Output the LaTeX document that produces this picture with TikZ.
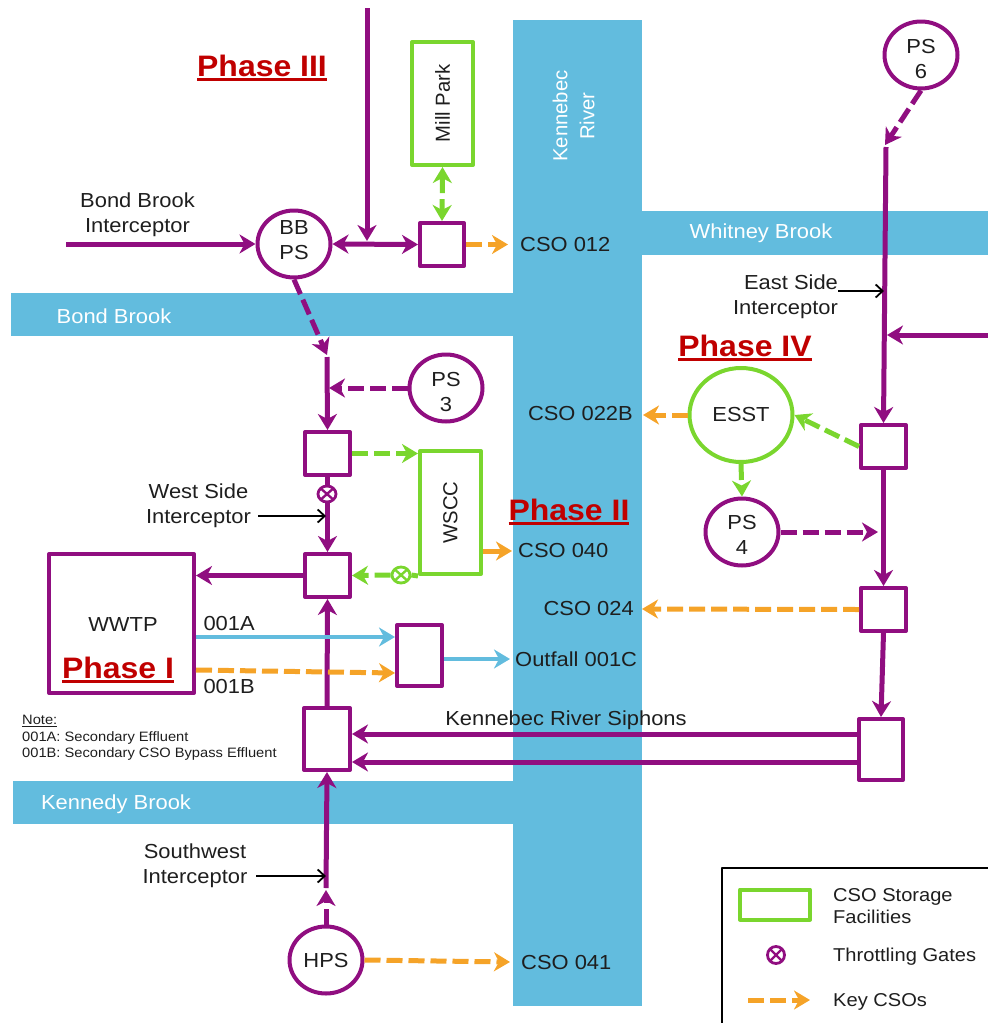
\documentclass[tikz,border=0pt]{standalone}
\usepackage{fontspec}
\setmainfont[FakeStretch=1.08]{Liberation Sans}
\newfontfamily\rotfont{Liberation Sans}
\usepackage{tikz}
\usetikzlibrary{arrows.meta, calc, shapes.geometric}

\definecolor{riverblue}{RGB}{98,188,222}
\definecolor{pipepurple}{RGB}{144,14,128}
\definecolor{storegreen}{RGB}{122,214,46}
\definecolor{csoorange}{RGB}{245,163,40}
\definecolor{phasered}{RGB}{192,0,0}
\definecolor{labelgray}{RGB}{30,30,30}

\newcommand{\phaseline}[1]{\setbox0\hbox{#1}\rlap{\rule[-4.5pt]{\wd0}{3pt}}\box0}

\tikzset{
  waterlabel/.style={text=white, font=\fontsize{20.3}{27}\selectfont},
  txt/.style={text=labelgray, font=\fontsize{20.3}{25}\selectfont, align=center},
  legtxt/.style={text=labelgray, font=\fontsize{18.6}{22}\selectfont, anchor=west, inner sep=0pt, align=left},
  pbox/.style={draw=pipepurple, line width=4pt, fill=white, line join=round, inner sep=0pt, minimum width=#1},
  pcirc/.style={draw=pipepurple, line width=4pt, fill=white, ellipse, inner sep=0pt, minimum width=73pt, minimum height=67pt, txt},
  gbox/.style={draw=storegreen, line width=4pt, fill=white, inner sep=0pt, line join=round, txt},
  phasetxt/.style={text=phasered, font=\fontsize{29.6}{36}\selectfont\bfseries},
  endtip/.style={-{Stealth[length=16pt,width=19pt,inset=5pt]}},
  bothtip/.style={{Stealth[length=16pt,width=19pt,inset=5pt]}-{Stealth[length=16pt,width=19pt,inset=5pt]}},
  pipe/.style={draw=pipepurple, line width=5pt, endtip},
  pipedash/.style={pipe, dash pattern=on 16pt off 6pt},
  gline/.style={draw=storegreen, line width=5pt, endtip, dash pattern=on 16pt off 6pt},
  oline/.style={draw=csoorange, line width=5pt, endtip, dash pattern=on 16pt off 6pt},
  bline/.style={draw=riverblue, line width=4pt, endtip},
  kline/.style={draw=black, line width=1.8pt, -{Straight Barb[length=7pt,width=13pt]}},
  gatep/.style={draw=pipepurple, line width=2.8pt, fill=white, ellipse, minimum width=18pt, minimum height=16pt, inner sep=0pt, path picture={
    \draw[pipepurple, line width=2.4pt] (path picture bounding box.north west) -- (path picture bounding box.south east)
      (path picture bounding box.north east) -- (path picture bounding box.south west);}},
  gateg/.style={gatep, draw=storegreen, path picture={
    \draw[storegreen, line width=2.4pt] (path picture bounding box.north west) -- (path picture bounding box.south east)
      (path picture bounding box.north east) -- (path picture bounding box.south west);}},
}

\begin{document}
\begin{tikzpicture}[x=1pt, y=-1pt, line join=round]
\useasboundingbox (0,0) rectangle (988,1023);

% water
\fill[riverblue] (513,20) rectangle (642,1006);
\fill[riverblue] (642,211) rectangle (988,255);
\fill[riverblue] (11,293) rectangle (513,336);
\fill[riverblue] (13,781) rectangle (513,824);
\node[waterlabel, rotate=90] (kennebec) at (575.5,116) {\rotfont\begin{tabular}{c}Kennebec\\River\end{tabular}};
\node[waterlabel] (whitney) at (761,233) {Whitney Brook};
\node[waterlabel] (bondbrook) at (114,316) {Bond Brook};
\node[waterlabel] (kennedy) at (116,804) {Kennedy Brook};

% facilities
\node[pcirc, label={[txt, yshift=4pt]center:BB\\PS}] (bbps) at (294,244) {};
\node[pcirc, label={[txt, yshift=-4pt]center:PS\\3}] (ps3) at (446,388) {};
\node[pcirc, label={[txt, yshift=-3pt]center:PS\\4}] (ps4) at (742,532) {};
\node[pcirc, label={[txt, yshift=-4pt]center:PS\\6}] (ps6) at (921,55) {};
\node[pcirc] (hps) at (326,960) {HPS};
\node[pcirc, draw=storegreen, minimum width=103pt, minimum height=94pt] (esst) at (741,415) {ESST};

\node[gbox, minimum width=61pt, minimum height=123pt] (millpark) at (442.5,103.5) {\rotatebox{90}{\rotfont Mill Park}};
\node[gbox, minimum width=61pt, minimum height=123pt] (wscc) at (450.5,512.5) {\rotatebox{90}{\rotfont WSCC}};

\node[pbox=44pt, minimum height=43pt] (boxa) at (442,244.5) {};
\node[pbox=45pt, minimum height=43pt] (boxb) at (327.5,453.5) {};
\node[pbox=45pt, minimum height=43pt] (boxc) at (327.5,575.5) {};
\node[pbox=45pt, minimum height=61pt] (boxd) at (419.5,655.5) {};
\node[pbox=46pt, minimum height=62pt] (boxe) at (327,739) {};
\node[pbox=44pt, minimum height=61pt] (boxf) at (881,749.5) {};
\node[pbox=45pt, minimum height=43pt] (boxg) at (883.5,446.5) {};
\node[pbox=45pt, minimum height=43pt] (boxh) at (883.5,609.5) {};
\node[pbox=145pt, minimum height=139pt] (wwtp) at (121.5,623.5) {};

% free ends
\coordinate (bbin) at (66,244);
\coordinate (topin) at (367,8);
\coordinate (topjoin) at (367,241);
\coordinate (westk) at (327,357);
\coordinate (westj) at (327,355);
\coordinate (ps3j) at (329,388);
\coordinate (eastin) at (988,335);
\coordinate (eastj) at (887,335);
\coordinate (ps6k) at (885,145);
\coordinate (ps6j) at (886,147);
\coordinate (ps4j) at (878,532);
\coordinate (hpsk) at (326,890);
\coordinate (hpsj) at (326,888);

% purple pipes
\draw[pipe] (bbin) -- (bbps.west);
\draw[pipe] (topin) -- (topjoin);
\draw[pipe, bothtip] (bbps.east) -- (boxa.west);
\draw[pipedash] (bbps.south) -- (westj);
\draw[pipe] (westk) -- (boxb.north);
\draw[pipedash] (ps3.west) -- (ps3j);
\draw[pipe] (boxc.west) -- (wwtp.east |- boxc.west);
\draw[pipe] (boxe.north) -- (boxc.south);
\draw[pipedash] (hps.north) -- (hpsk);
\draw[pipe] (hpsj) -- (boxe.south);
\draw[pipe] ($(boxf.west)+(0,-15.5)$) -- ($(boxe.east)+(0,-5)$);
\draw[pipe] ($(boxf.west)+(0,12.5)$) -- ($(boxe.east)+(0,23)$);
\draw[pipedash] (ps6.south) -- (ps6k);
\draw[pipe] (ps6j) -- (boxg.north);
\draw[pipe] (eastin) -- (eastj);
\draw[pipe] (boxg.south) -- (boxh.north);
\draw[pipe] (boxh.south) -- (boxf.north);
\draw[pipedash] (ps4.east) -- (ps4j);
\draw[pipe] (boxb.south) -- (boxc.north);

% gates
\node[gatep] (gatea) at (327,494) {};
\node[gateg] (gateb) at (401,575) {};

% green links
\draw[gline, bothtip] (millpark.south) -- (boxa.north);
\draw[gline] (boxb.east) -- (wscc.west |- boxb.east);
\draw[draw=storegreen, line width=5pt] (wscc.south west) -- (gateb.east);
\draw[gline] (gateb.west) -- (boxc.east);
\draw[gline] (boxg.west) -- (esst.east);
\draw[gline] (esst.south) -- (ps4.north);

% labels at the river
\node[txt, anchor=west, inner xsep=12pt] (cso012) at (508,245) {CSO 012};
\node[txt, anchor=east, inner xsep=10pt] (cso022) at (643,414) {CSO 022B};
\node[txt, anchor=west, inner xsep=6pt] (cso040) at (512,551) {CSO 040};
\node[txt, anchor=east, inner xsep=8pt] (cso024) at (642,609) {CSO 024};
\node[txt, anchor=west, inner xsep=5pt] (outfall) at (510,659) {Outfall 001C};
\node[txt, anchor=west, inner xsep=11pt] (cso041) at (510,962) {CSO 041};

% orange links
\draw[oline] (boxa.east) -- (cso012.west |- boxa.east);
\draw[oline] (esst.west) -- (cso022.east |- esst.west);
\draw[oline, solid] (wscc.east |- cso040.west) -- (cso040.west);
\draw[oline] (boxh.west) -- (cso024.east);
\draw[oline] (wwtp.east |- 0,670) -- (boxd.west |- 0,673);
\draw[oline] (hps.east) -- (cso041.west);

% blue links
\draw[bline] (wwtp.east |- 0,637) -- (boxd.west |- 0,637);
\draw[bline] (boxd.east |- outfall.west) -- (outfall.west);

% interceptors
\node[txt] (bbint) at (137.5,215) {Bond Brook\\Interceptor};
\node[txt, align=right] (eastint) at (785.5,296.5) {East Side\\Interceptor};
\node[txt] (westint) at (198.5,505.5) {West Side\\Interceptor};
\node[txt] (swint) at (195,866) {Southwest\\Interceptor};
\coordinate (eastka) at (838,291);
\coordinate (eastkb) at (884,291);
\coordinate (westka) at (258,516);
\coordinate (westkb) at (326,516);
\coordinate (swka) at (256,876);
\coordinate (swkb) at (326,876);
\draw[kline] (eastka) -- (eastkb);
\draw[kline] (westka) -- (westkb);
\draw[kline] (swka) -- (swkb);

% other text
\node[txt] (wwtptxt) at (123,625) {WWTP};
\node[txt, anchor=west] (a001) at (200,624) {001A};
\node[txt, anchor=west] (b001) at (200,687) {001B};
\node[txt] (siphons) at (566,720) {Kennebec River Siphons};
\node[anchor=north west, align=left, inner sep=0pt, text=labelgray, font=\fontsize{13.6}{16.5}\selectfont] (note) at (22,715) {\underline{Note:}\\001A: Secondary Effluent\\001B: Secondary CSO Bypass Effluent};

% phases
\node[phasetxt] (ph3) at (262,68) {\phaseline{Phase III}};
\node[phasetxt] (ph4) at (745,348) {\phaseline{Phase IV}};
\node[phasetxt] (ph2) at (569,512) {\phaseline{Phase II}};
\node[phasetxt] (ph1) at (118,670) {\phaseline{Phase I}};

% legend
\draw[black, line width=1.5pt] (722,1023) -- (722,868) -- (988,868);
\node[gbox, minimum width=70pt, minimum height=30pt] (legbox) at (775,904.5) {};
\node[gatep, minimum width=17pt, minimum height=17pt] (leggate) at (776,955) {};
\coordinate (lega) at (748,1000);
\coordinate (legb) at (810,1000);
\draw[oline] (lega) -- (legb);
\node[legtxt] (legcso) at (833,906) {CSO Storage\\Facilities};
\node[legtxt] (leggt) at (833,957) {Throttling Gates};
\node[legtxt] (legkey) at (833,1002) {Key CSOs};
\end{tikzpicture}
\end{document}
